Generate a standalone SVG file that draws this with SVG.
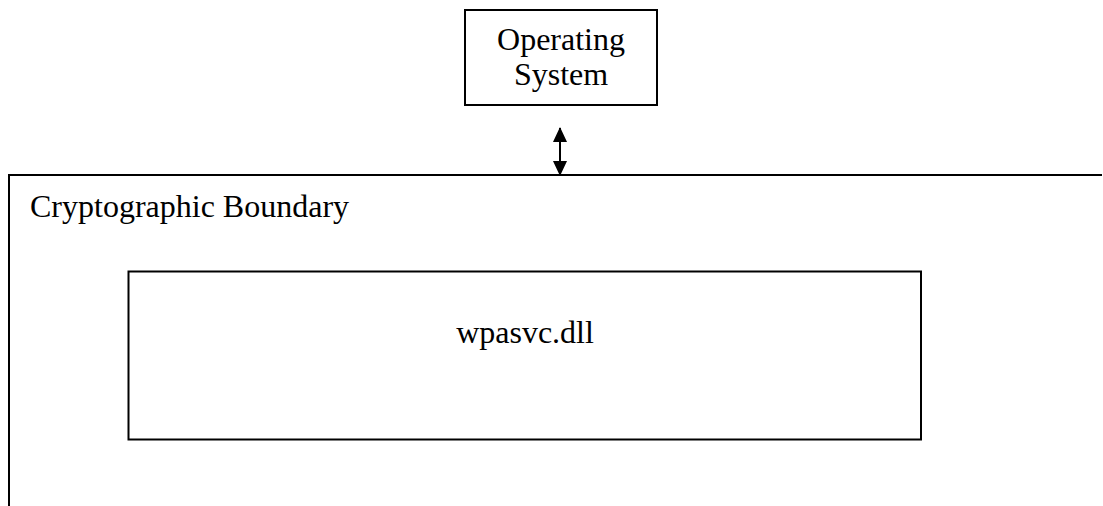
<svg xmlns="http://www.w3.org/2000/svg" width="1103" height="506" viewBox="0 0 1103 506">
  <style>
    .box { fill: #ffffff; stroke: #000000; stroke-width: 2; }
    .line { fill: none; stroke: #000000; stroke-width: 2; }
    .label { font-family: "Liberation Serif", "Times New Roman", serif; font-size: 32px; fill: #000000; }
  </style>
  <defs>
    <marker id="arrowHead" viewBox="0 0 16 14" refX="14" refY="7" markerWidth="16" markerHeight="14" markerUnits="userSpaceOnUse" orient="auto-start-reverse">
      <path d="M0,0 L15,7 L0,14 Z" fill="#000000"/>
    </marker>
  </defs>
  <rect width="1103" height="506" fill="#ffffff"/>

  <!-- Cryptographic boundary: open frame along top and left -->
  <g id="boundary">
    <path class="line" d="M9,506 V175 H1102"/>
    <text class="label" x="30" y="217">Cryptographic Boundary</text>
  </g>

  <!-- Operating system node -->
  <g id="operating-system">
    <rect class="box" x="465" y="10" width="192" height="95"/>
    <text class="label" x="561" y="50" text-anchor="middle">Operating</text>
    <text class="label" x="561" y="85" text-anchor="middle">System</text>
  </g>

  <!-- Module DLL node -->
  <g id="wpasvc">
    <rect class="box" x="128.5" y="271.5" width="792.5" height="168"/>
    <text class="label" x="525" y="343" text-anchor="middle">wpasvc.dll</text>
  </g>

  <!-- Connectors -->
  <g id="connectors">
    <line class="line" x1="560" y1="128" x2="560" y2="175" marker-start="url(#arrowHead)" marker-end="url(#arrowHead)"/>
  </g>
</svg>
